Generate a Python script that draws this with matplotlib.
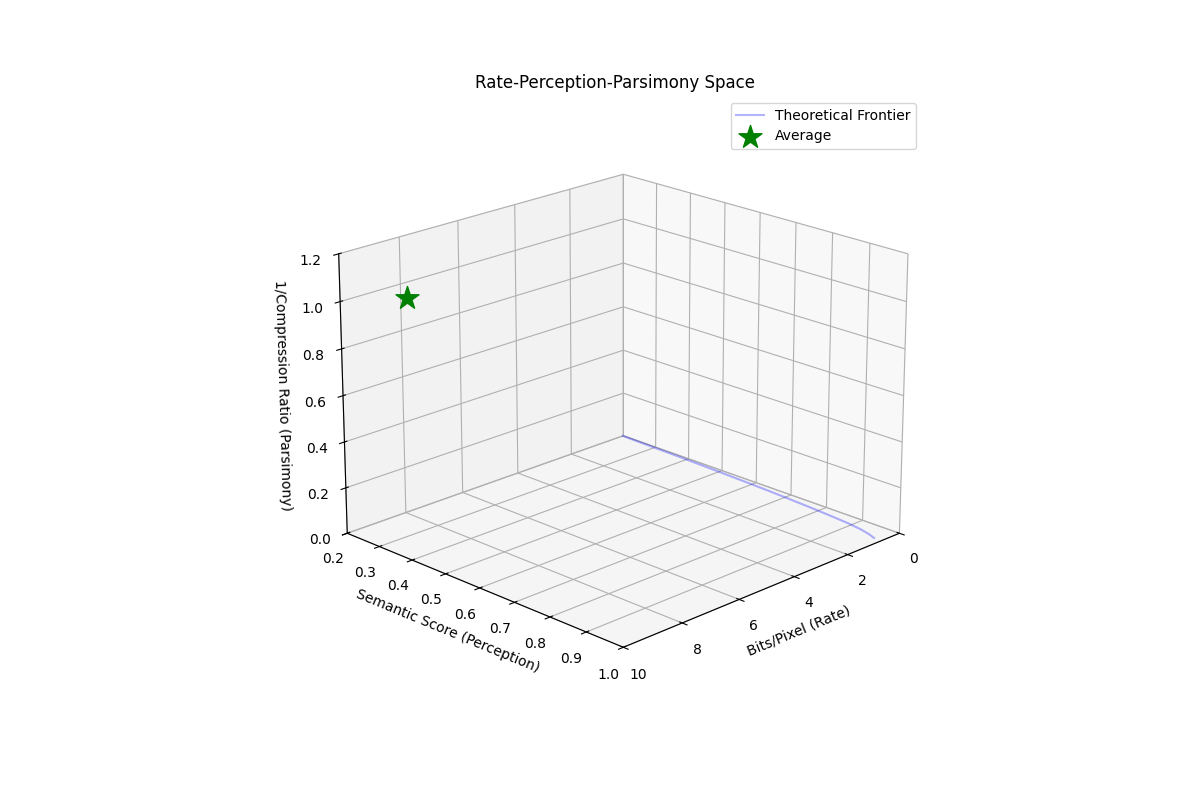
import numpy as np
import matplotlib
matplotlib.use("Agg")
import matplotlib.pyplot as plt

# frontier points (rate, semantic, parsimony)
frontier_rate = [0.02, 0.05, 0.08, 0.12, 0.16, 0.2, 0.25, 0.3, 0.36, 0.42, 0.5, 0.6, 0.7]
frontier_sem = [0.2, 0.3, 0.4, 0.5, 0.58, 0.65, 0.72, 0.78, 0.84, 0.89, 0.93, 0.96, 0.98]
frontier_par = [0.0] * len(frontier_rate)

# average point
avg_rate = [8.0]
avg_sem = [0.22]
avg_par = [0.95]

fig = plt.figure(figsize=(12, 8), dpi=100)
ax = fig.add_subplot(111, projection='3d')
ax.plot(frontier_rate, frontier_sem, frontier_par, color='blue', alpha=0.3, label='Theoretical Frontier')
ax.scatter(avg_rate, avg_sem, avg_par, color='green', marker='*', s=300, alpha=1, label='Average')
ax.set_xlim(0, 10)
ax.set_ylim(0.2, 1.0)
ax.set_zlim(0, 1.2)
ax.set_xlabel('Bits/Pixel (Rate)')
ax.set_ylabel('Semantic Score (Perception)')
ax.set_zlabel('1/Compression Ratio (Parsimony)')
ax.set_title('Rate-Perception-Parsimony Space')
ax.view_init(elev=20, azim=45)
ax.legend()
plt.savefig('out.png')
